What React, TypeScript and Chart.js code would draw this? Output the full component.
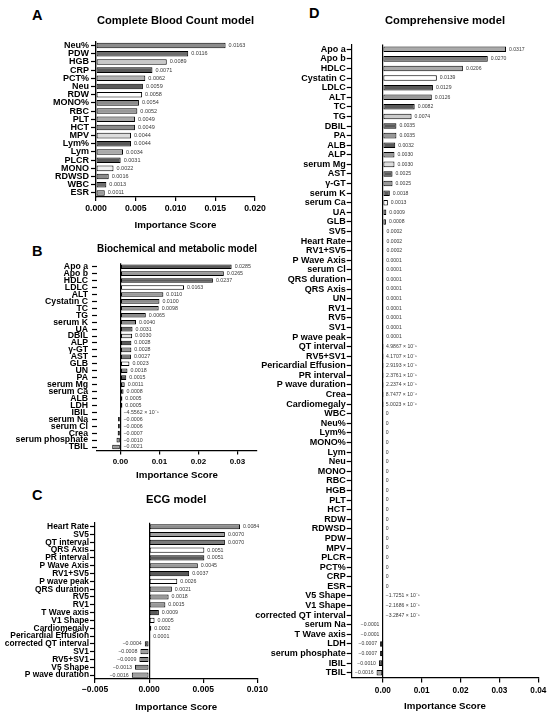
import React, { useEffect, useRef } from 'react';
import { Chart, registerables } from 'chart.js';

Chart.register(...registerables);

const FONT = '"Liberation Sans", Arial, Helvetica, sans-serif';

// ---------- A: Complete Blood Count model ----------
const cbcLabels = ['Neu%', 'PDW', 'HGB', 'CRP', 'PCT%', 'Neu', 'RDW', 'MONO%', 'RBC', 'PLT', 'HCT', 'MPV', 'Lym%', 'Lym', 'PLCR', 'MONO', 'RDWSD', 'WBC', 'ESR'];
const cbcValues = [0.0163, 0.0116, 0.0089, 0.0071, 0.0062, 0.0059, 0.0058, 0.0054, 0.0052, 0.0049, 0.0049, 0.0044, 0.0044, 0.0034, 0.0031, 0.0022, 0.0016, 0.0013, 0.0011];
const cbcTicks = [0, 0.005, 0.01, 0.015, 0.02];

// ---------- B: Biochemical and metabolic model ----------
const bioLabels = ['Apo a', 'Apo b', 'HDLC', 'LDLC', 'ALT', 'Cystatin C', 'TC', 'TG', 'serum K', 'UA', 'DBIL', 'ALP', 'γ-GT', 'AST', 'GLB', 'UN', 'PA', 'serum Mg', 'serum Ca', 'ALB', 'LDH', 'IBIL', 'serum Na', 'serum Cl', 'Crea', 'serum phosphate', 'TBIL'];
const bioValues = [0.0285, 0.0265, 0.0237, 0.0163, 0.0110, 0.0100, 0.0098, 0.0065, 0.0040, 0.0031, 0.0030, 0.0028, 0.0028, 0.0027, 0.0023, 0.0018, 0.0015, 0.0011, 0.0008, 0.0005, 0.0005, -4.5562e-5, -0.0006, -0.0006, -0.0007, -0.0010, -0.0021];
const bioTicks = [0, 0.01, 0.02, 0.03];

// ---------- C: ECG model ----------
const ecgLabels = ['Heart Rate', 'SV5', 'QT interval', 'QRS Axis', 'PR interval', 'P Wave Axis', 'RV1+SV5', 'P wave peak', 'QRS duration', 'RV5', 'RV1', 'T Wave axis', 'V1 Shape', 'Cardiomegaly', 'Pericardial Effusion', 'corrected QT interval', 'SV1', 'RV5+SV1', 'V5 Shape', 'P wave duration'];
const ecgValues = [0.0084, 0.0070, 0.0070, 0.0051, 0.0051, 0.0045, 0.0037, 0.0026, 0.0021, 0.0018, 0.0015, 0.0009, 0.0005, 0.0002, 0.0001, -0.0004, -0.0008, -0.0009, -0.0013, -0.0016];
const ecgTicks = [-0.005, 0, 0.005, 0.01];

// ---------- D: Comprehensive model ----------
const compLabels = ['Apo a', 'Apo b', 'HDLC', 'Cystatin C', 'LDLC', 'ALT', 'TC', 'TG', 'DBIL', 'PA', 'ALB', 'ALP', 'serum Mg', 'AST', 'γ-GT', 'serum K', 'serum Ca', 'UA', 'GLB', 'SV5', 'Heart Rate', 'RV1+SV5', 'P Wave Axis', 'serum Cl', 'QRS duration', 'QRS Axis', 'UN', 'RV1', 'RV5', 'SV1', 'P wave peak', 'QT interval', 'RV5+SV1', 'Pericardial Effusion', 'PR interval', 'P wave duration', 'Crea', 'Cardiomegaly', 'WBC', 'Neu%', 'Lym%', 'MONO%', 'Lym', 'Neu', 'MONO', 'RBC', 'HGB', 'PLT', 'HCT', 'RDW', 'RDWSD', 'PDW', 'MPV', 'PLCR', 'PCT%', 'CRP', 'ESR', 'V5 Shape', 'V1 Shape', 'corrected QT interval', 'serum Na', 'T Wave axis', 'LDH', 'serum phosphate', 'IBIL', 'TBIL'];
const compValues = [0.0317, 0.0270, 0.0206, 0.0139, 0.0129, 0.0126, 0.0082, 0.0074, 0.0035, 0.0035, 0.0032, 0.0030, 0.0030, 0.0025, 0.0025, 0.0018, 0.0013, 0.0009, 0.0008, 0.0002, 0.0002, 0.0002, 0.0001, 0.0001, 0.0001, 0.0001, 0.0001, 0.0001, 0.0001, 0.0001, 0.0001, 4.9867e-5, 4.1707e-5, 2.9193e-5, 2.3761e-5, 2.2374e-5, 8.7477e-6, 5.0023e-6, 0, 0, 0, 0, 0, 0, 0, 0, 0, 0, 0, 0, 0, 0, 0, 0, 0, 0, 0, -1.7251e-5, -2.1686e-5, -3.2847e-5, -0.0001, -0.0001, -0.0007, -0.0007, -0.0010, -0.0016];
const compTicks = [0, 0.01, 0.02, 0.03, 0.04];

// ---------- bar fills (styles) ----------
const cbcColors = ['#8c8c8c', '#6e6e6e', '#c8c8c8', '#5a5a5a', '#b4b4b4', '#5a5a5a', '#ffffff', '#8c8c8c', '#999999', '#aaaaaa', '#8c8c8c', '#dddddd', '#5a5a5a', '#aaaaaa', '#5a5a5a', '#f0f0f0', '#8c8c8c', '#6e6e6e', '#999999'];
const bioColors = ['#5a5a5a', '#999999', '#5a5a5a', '#ffffff', '#999999', '#8c8c8c', '#999999', '#8c8c8c', '#8c8c8c', '#6e6e6e', '#e6e6e6', '#5a5a5a', '#999999', '#7a7a7a', '#ffffff', '#8c8c8c', '#5a5a5a', '#999999', '#5a5a5a', '#999999', '#5a5a5a', '#999999', '#8c8c8c', '#999999', '#999999', '#8c8c8c', '#999999'];
const ecgColors = ['#8c8c8c', '#a0a0a0', '#7a7a7a', '#ffffff', '#5a5a5a', '#999999', '#5a5a5a', '#ffffff', '#999999', '#999999', '#999999', '#5a5a5a', '#ffffff', '#333333', '#999999', '#5a5a5a', '#a0a0a0', '#8c8c8c', '#8c8c8c', '#a0a0a0'];
const compColors = ['#aaaaaa', '#7a7a7a', '#aaaaaa', '#ffffff', '#5a5a5a', '#999999', '#5a5a5a', '#cccccc', '#5a5a5a', '#999999', '#5a5a5a', '#999999', '#dddddd', '#5a5a5a', '#999999', '#5a5a5a', '#ffffff', '#5a5a5a', '#999999']
  .concat(Array(43).fill('#999999'))
  .concat(['#7a7a7a', '#999999', '#5a5a5a', '#aaaaaa']);

const SUP: Record<string, string> = { '-': '⁻', '0': '⁰', '1': '¹', '2': '²', '3': '³', '4': '⁴', '5': '⁵', '6': '⁶', '7': '⁷', '8': '⁸', '9': '⁹' };

function isSci(v: number) {
  return v !== 0 && Math.abs(v) < 0.00005;
}

function fmtValue(v: number): string {
  if (v === 0) return '0';
  const a = Math.abs(v);
  const sign = v < 0 ? '−' : '';
  if (!isSci(v)) return sign + a.toFixed(4);
  const e = Math.floor(Math.log10(a));
  const m = a / Math.pow(10, e);
  return `${sign}${m.toFixed(4)} × 10${String(e).split('').map((c) => SUP[c] || c).join('')}`;
}

function fmtTick(v: number, d: number) {
  const s = Math.abs(v).toFixed(d);
  return v < 0 ? '−' + s : s;
}

const valueLabelPlugin = {
  id: 'valueLabels',
  afterDatasetsDraw(chart: any, _args: any, opts: any) {
    const { ctx } = chart;
    const meta = chart.getDatasetMeta(0);
    const data = chart.data.datasets[0].data as number[];
    const zero = chart.scales.x.getPixelForValue(0);
    ctx.save();
    ctx.font = `${opts.size}px ${FONT}`;
    ctx.fillStyle = '#3a3a3a';
    ctx.textBaseline = 'middle';
    meta.data.forEach((bar: any, i: number) => {
      const v = data[i];
      const txt = fmtValue(v);
      const left = v < 0 && !isSci(v) && opts.negSide === 'left';
      if (left) {
        ctx.textAlign = 'right';
        ctx.fillText(txt, Math.min(bar.x, zero) - opts.gap, bar.y);
      } else {
        ctx.textAlign = 'left';
        ctx.fillText(txt, Math.max(bar.x, zero) + opts.gap, bar.y);
      }
    });
    ctx.restore();
  },
};

type Spec = {
  letter: string;
  letterX: number;
  letterTop: number;
  title: string;
  labels: string[];
  values: number[];
  colors: string[];
  ticks: number[];
  decimals: number;
  min: number;
  max: number;
  box: { left: number; top: number; width: number; height: number };
  area: { left: number; right: number; top: number; bottom: number };
  titleCenter: number;
  axisTitleCenter: number;
  labelFont: number;
  labelTick: number;
  labelPad: number;
  yBorder: boolean;
  xFont: number;
  xTick: number;
  xPad: number;
  barPct: number;
  negSide: 'left' | 'right';
  valueFont: number;
};

function buildConfig(s: Spec): any {
  const padTop = 2;
  const titleSize = 11.2;
  const titleLH = titleSize * 1.2;
  const axisSize = 9.7;
  const axisLH = axisSize * 1.2;
  return {
    type: 'bar',
    data: {
      labels: s.labels,
      datasets: [
        {
          data: s.values,
          backgroundColor: s.colors,
          borderColor: '#000',
          borderWidth: 1,
          borderSkipped: false,
          barPercentage: s.barPct,
          categoryPercentage: 1,
        },
      ],
    },
    options: {
      indexAxis: 'y',
      responsive: false,
      animation: false,
      devicePixelRatio: 1,
      layout: { padding: { left: 0, top: padTop, right: s.box.width - s.area.right, bottom: 0 } },
      plugins: {
        legend: { display: false },
        tooltip: { enabled: false },
        title: {
          display: true,
          text: s.title,
          fullSize: false,
          color: '#000',
          font: { family: FONT, size: titleSize, weight: 'bold', lineHeight: 1.2 },
          padding: { top: s.titleCenter - titleLH / 2 - padTop, bottom: s.area.top - s.titleCenter - titleLH / 2 },
        },
        valueLabels: { negSide: s.negSide, gap: 3, size: s.valueFont },
      },
      scales: {
        x: {
          type: 'linear',
          min: s.min,
          max: s.max,
          afterFit: (sc: any) => {
            sc.height = s.box.height - s.area.bottom;
          },
          afterBuildTicks: (sc: any) => {
            sc.ticks = s.ticks.map((v) => ({ value: v }));
          },
          ticks: {
            autoSkip: false,
            maxRotation: 0,
            padding: s.xPad,
            color: '#000',
            font: { family: FONT, size: s.xFont, weight: 'bold' },
            callback: (v: any) => fmtTick(Number(v), s.decimals),
          },
          grid: {
            color: (c: any) => (c.tick && c.tick.value === 0 ? '#000' : 'rgba(0,0,0,0)'),
            lineWidth: 1.2,
            drawTicks: true,
            tickColor: '#000',
            tickLength: s.xTick,
            tickWidth: 1.2,
          },
          border: { display: true, color: '#000', width: 1.2 },
          title: {
            display: true,
            text: 'Importance Score',
            color: '#000',
            font: { family: FONT, size: axisSize, weight: 'bold', lineHeight: 1.2 },
            padding: { top: 0, bottom: Math.max(0, s.box.height - s.axisTitleCenter - axisLH / 2) },
          },
        },
        y: {
          type: 'category',
          offset: true,
          afterFit: (sc: any) => {
            sc.width = s.area.left;
          },
          ticks: {
            autoSkip: false,
            padding: s.labelPad,
            color: '#000',
            font: { family: FONT, size: s.labelFont, weight: 'bold' },
          },
          grid: {
            drawOnChartArea: false,
            offset: false,
            drawTicks: true,
            tickLength: s.labelTick,
            tickColor: '#000',
            tickWidth: 1.2,
          },
          border: { display: s.yBorder, color: '#000', width: 1.2 },
        },
      },
    },
    plugins: [valueLabelPlugin],
  };
}

const specs: Spec[] = [
  {
    letter: 'A', letterX: 32, letterTop: 10,
    title: 'Complete Blood Count model',
    labels: cbcLabels, values: cbcValues, colors: cbcColors, ticks: cbcTicks, decimals: 3,
    min: 0, max: 0.02,
    box: { left: 0, top: 0, width: 270, height: 232 },
    area: { left: 96, right: 255, top: 41.5, bottom: 197 },
    titleCenter: 20.5, axisTitleCenter: 225.5,
    labelFont: 9, labelTick: 5, labelPad: 2, yBorder: true,
    xFont: 8.7, xTick: 4, xPad: 2,
    barPct: 0.68, negSide: 'right', valueFont: 5.5,
  },
  {
    letter: 'B', letterX: 32, letterTop: 246,
    title: 'Biochemical and metabolic model',
    labels: bioLabels, values: bioValues, colors: bioColors, ticks: bioTicks, decimals: 2,
    min: -0.006, max: 0.035,
    box: { left: 0, top: 232, width: 270, height: 249 },
    area: { left: 97, right: 257, top: 31.2, bottom: 218.5 },
    titleCenter: 17, axisTitleCenter: 243,
    labelFont: 8.7, labelTick: 5, labelPad: 4, yBorder: false,
    xFont: 8, xTick: 4, xPad: 2,
    barPct: 0.66, negSide: 'right', valueFont: 5.3,
  },
  {
    letter: 'C', letterX: 32, letterTop: 490,
    title: 'ECG model',
    labels: ecgLabels, values: ecgValues, colors: ecgColors, ticks: ecgTicks, decimals: 3,
    min: -0.005, max: 0.01,
    box: { left: 0, top: 480, width: 270, height: 234 },
    area: { left: 95, right: 258, top: 42.8, bottom: 199 },
    titleCenter: 20, axisTitleCenter: 227.7,
    labelFont: 8.4, labelTick: 5, labelPad: 1, yBorder: true,
    xFont: 8.5, xTick: 4, xPad: 2,
    barPct: 0.66, negSide: 'left', valueFont: 5.3,
  },
  {
    letter: 'D', letterX: 309, letterTop: 8,
    title: 'Comprehensive model',
    labels: compLabels, values: compValues, colors: compColors, ticks: compTicks, decimals: 2,
    min: -0.008, max: 0.04,
    box: { left: 255, top: 0, width: 295, height: 713 },
    area: { left: 96.7, right: 283.3, top: 44.5, bottom: 677.5 },
    titleCenter: 21, axisTitleCenter: 706.7,
    labelFont: 9, labelTick: 5, labelPad: 1, yBorder: true,
    xFont: 8.2, xTick: 5, xPad: 3.5,
    barPct: 0.58, negSide: 'left', valueFont: 5.1,
  },
];

function Panel({ spec }: { spec: Spec }) {
  const ref = useRef<HTMLCanvasElement>(null);
  useEffect(() => {
    const chart = new Chart(ref.current as HTMLCanvasElement, buildConfig(spec));
    return () => chart.destroy();
  }, [spec]);
  return (
    <>
      <div
        style={{
          position: 'absolute',
          left: spec.letterX,
          top: spec.letterTop - 1.9,
          fontFamily: FONT,
          fontWeight: 'bold',
          fontSize: 14.5,
          lineHeight: 1,
          color: '#000',
        }}
      >
        {spec.letter}
      </div>
      <canvas
        ref={ref}
        width={spec.box.width}
        height={spec.box.height}
        style={{
          position: 'absolute',
          left: spec.box.left,
          top: spec.box.top,
          width: spec.box.width,
          height: spec.box.height,
        }}
      />
    </>
  );
}

export default function App() {
  return (
    <div
      style={{
        position: 'fixed',
        left: 0,
        top: 0,
        width: 550,
        height: 717,
        background: '#fff',
        overflow: 'hidden',
      }}
    >
      {specs.map((s) => (
        <Panel key={s.letter} spec={s} />
      ))}
    </div>
  );
}
